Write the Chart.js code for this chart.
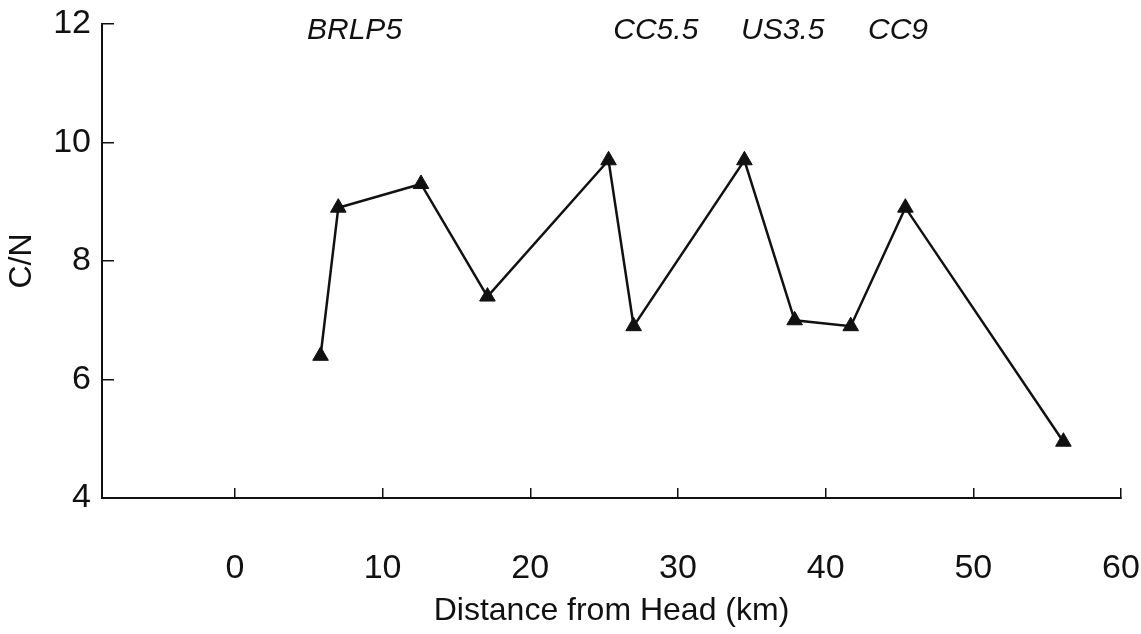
<!DOCTYPE html>
<html>
<head>
<meta charset="utf-8">
<title>C/N along the estuary</title>
<script src="https://cdn.jsdelivr.net/npm/chart.js@4.4.1/dist/chart.umd.min.js"></script>
<style>
  html, body { margin: 0; padding: 0; background: #fff; }
  #wrap { width: 1141px; height: 634px; }
</style>
</head>
<body>
<div id="wrap"><canvas id="cnChart" width="1141" height="634"></canvas></div>
<script>
// distance from head (km) and C/N ratio at each sampling site
const distanceKm = [5.8, 7.0, 12.6, 17.1, 25.3, 27.0, 34.5, 37.9, 41.7, 45.4, 56.1];
const cnRatio = [6.4, 8.9, 9.3, 7.4, 9.7, 6.9, 9.7, 7.0, 6.9, 8.9, 4.95];

// axis ticks
const xTicks = [0, 10, 20, 30, 40, 50, 60];
const yTicks = [4, 6, 8, 10, 12];

// station names written along the top
const stationNames = ['BRLP5', 'CC5.5', 'US3.5', 'CC9'];
const stationKm = [8.1, 28.5, 37.1, 44.9];

const ink = '#111';
const fontFamily = '"Liberation Sans", Arial, Helvetica, sans-serif';

const stationLabels = {
  id: 'stationLabels',
  afterDraw(chart) {
    const ctx = chart.ctx;
    const x = chart.scales.x;
    ctx.save();
    ctx.fillStyle = ink;
    ctx.font = 'italic 30px ' + fontFamily;
    ctx.textAlign = 'center';
    ctx.textBaseline = 'alphabetic';
    stationNames.forEach((name, i) => {
      ctx.fillText(name, x.getPixelForValue(stationKm[i]), 39);
    });
    ctx.restore();
  }
};

const points = distanceKm.map((d, i) => ({ x: d, y: cnRatio[i] }));

new Chart(document.getElementById('cnChart'), {
  type: 'scatter',
  data: {
    datasets: [{
      data: points,
      showLine: true,
      borderColor: ink,
      borderWidth: 2.5,
      tension: 0,
      pointStyle: 'triangle',
      pointRadius: 9,
      pointHoverRadius: 9,
      pointBackgroundColor: ink,
      pointBorderColor: ink,
      pointBorderWidth: 1
    }]
  },
  options: {
    responsive: false,
    animation: false,
    events: [],
    layout: { padding: { top: 24, right: 20, left: 0, bottom: 0 } },
    plugins: {
      legend: { display: false },
      tooltip: { enabled: false }
    },
    scales: {
      x: {
        type: 'linear',
        min: -9,
        max: 60,
        afterBuildTicks: s => { s.ticks = xTicks.map(v => ({ value: v })); },
        afterFit: s => {
          // ticks point inward, so the big label padding should not eat the plot width
          s.height = 136;
          s.paddingLeft = 0;
          s.paddingRight = 0;
        },
        border: { color: ink, width: 2 },
        grid: { drawOnChartArea: false, tickLength: -10, color: ink, lineWidth: 1.5 },
        ticks: {
          color: ink,
          padding: 60,
          maxRotation: 0,
          font: { family: fontFamily, size: 34 }
        },
        title: {
          display: true,
          text: 'Distance from Head (km)',
          color: ink,
          padding: { top: 0, bottom: 4 },
          font: { family: fontFamily, size: 32 }
        }
      },
      y: {
        type: 'linear',
        min: 4,
        max: 12,
        afterBuildTicks: s => { s.ticks = yTicks.map(v => ({ value: v })); },
        afterFit: s => {
          s.width = 102;
          s.paddingTop = 0;
          s.paddingBottom = 0;
        },
        border: { color: ink, width: 2 },
        grid: { drawOnChartArea: false, tickLength: -12, color: ink, lineWidth: 1.5 },
        ticks: {
          color: ink,
          padding: 23,
          font: { family: fontFamily, size: 34 }
        },
        title: {
          display: true,
          text: 'C/N',
          color: ink,
          padding: { top: 3, bottom: 0 },
          font: { family: fontFamily, size: 32 }
        }
      }
    }
  },
  plugins: [stationLabels]
});
</script>
</body>
</html>
